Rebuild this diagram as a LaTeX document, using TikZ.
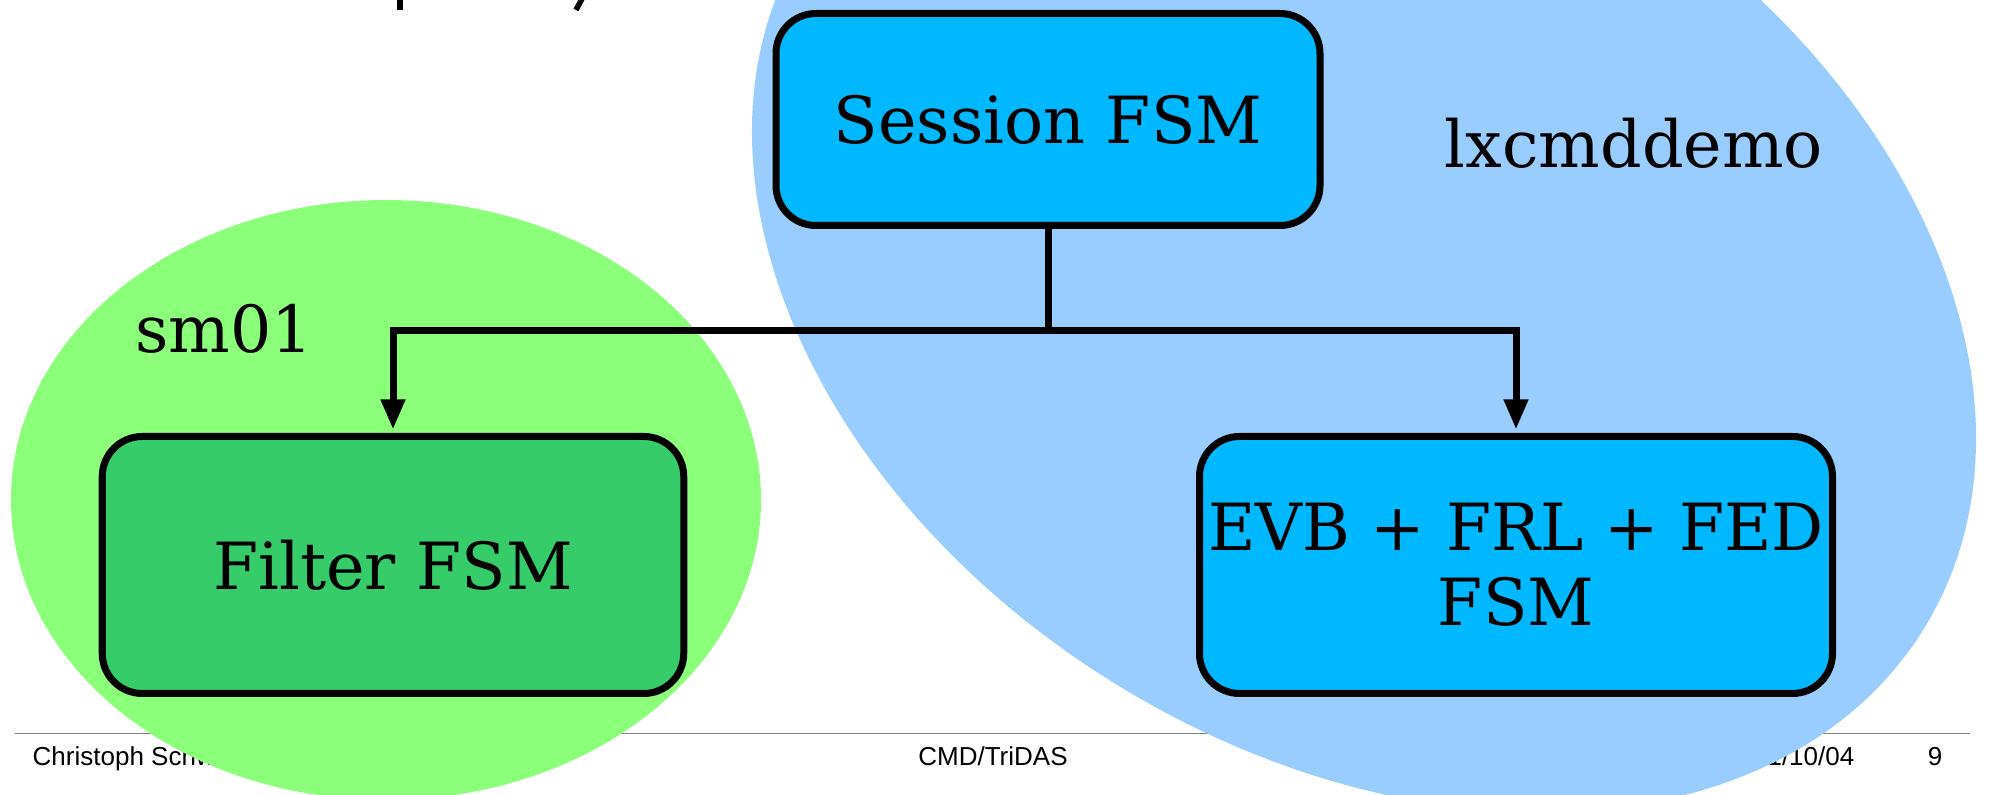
\documentclass[tikz,border=0pt]{standalone}
\usepackage{fontspec}
\setmainfont{DejaVu Serif}
\newfontfamily\slidefont{Liberation Sans}
\usetikzlibrary{
  arrows.meta,
  positioning
}
\definecolor{hostgreen}{RGB}{140,255,122}
\definecolor{hostblue}{RGB}{153,204,255}
\definecolor{fsmcyan}{RGB}{0,184,255}
\definecolor{fsmgreen}{RGB}{54,204,106}
\definecolor{rulegray}{RGB}{128,128,128}

\begin{document}
\begin{tikzpicture}[
  fsmbox/.style={
    draw=black,
    line width=0.07cm,
    rounded corners=0.4cm,
    font=\fontsize{18.5}{21.3}\selectfont,
    align=center,
    inner sep=0pt
  },
  hostlabel/.style={
    font=\fontsize{18.5}{21.3}\selectfont,
    anchor=base,
    inner sep=0pt
  },
  footlabel/.style={
    font=\slidefont\fontsize{7.4}{9}\selectfont,
    inner sep=0pt
  },
  flow/.style={
    line width=0.07cm,
    black
  }
]
  \useasboundingbox (0,0) rectangle (19.91,-7.95);

  % Slide footer (lies under the host regions)
  \draw[rulegray, line width=0.013cm] (0.15,-7.335) -- (19.70,-7.335);
  \node[footlabel, anchor=base west] (author) at (0.32,-7.66) {Christoph Schwick};
  \node[footlabel, anchor=base] (project) at (9.93,-7.66) {CMD/TriDAS};
  \node[footlabel, anchor=base east] (date) at (18.55,-7.66) {11/10/04};
  \node[footlabel, anchor=base east] (page) at (19.43,-7.66) {9};

  % Title descenders running off the top edge
  \draw[line width=0.06cm] (4.00,0.05) -- (4.00,-0.10);
  \draw[line width=0.055cm] (5.84,0.05) -- (5.76,-0.10);

  % Host regions
  \fill[hostgreen] (3.86,-5.00) ellipse (3.75 and 3.00);
  \fill[hostblue, shift={(13.64,-2.85)}, rotate=-31.4] (0,0) ellipse (6.57 and 4.70);

  % FSM boxes
  \node[fsmbox, fill=fsmcyan, minimum width=5.44cm, minimum height=2.12cm] (session) at (10.48,-1.195) {Session FSM};
  \node[fsmbox, fill=fsmgreen, minimum width=5.815cm, minimum height=2.57cm] (filter) at (3.93,-5.65) {Filter FSM};
  \node[fsmbox, fill=fsmcyan, minimum width=6.33cm, minimum height=2.57cm] (evb) at (15.16,-5.65) {EVB + FRL + FED\\FSM};

  % Command tree
  \coordinate (split) at ([yshift=-1.02cm]session.south);
  \draw[flow] (session.south) -- (split);
  \draw[flow, -{Triangle[length=3mm,width=2.3mm]}, shorten >=0.035cm] (split) -| (filter.north);
  \draw[flow, -{Triangle[length=3mm,width=2.3mm]}, shorten >=0.035cm] (split) -| (evb.north);

  % Host names
  \node[hostlabel] (sm) at (2.245,-3.53) {sm01};
  \node[hostlabel] (lx) at (16.34,-1.68) {lxcmddemo};
\end{tikzpicture}
\end{document}
